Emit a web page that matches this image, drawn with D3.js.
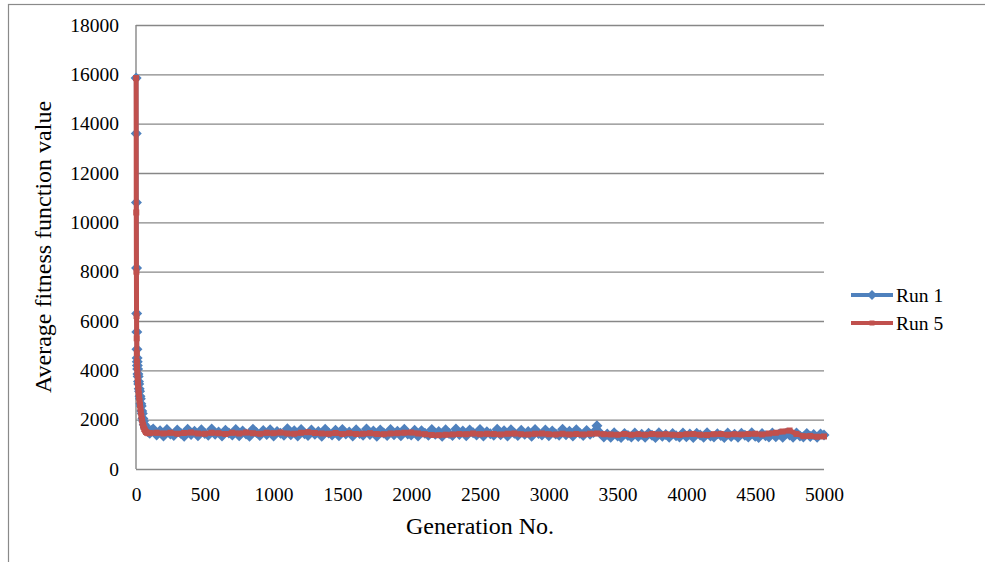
<!DOCTYPE html>
<html>
<head>
<meta charset="utf-8">
<script src="https://cdn.jsdelivr.net/npm/d3@7/dist/d3.min.js"></script>
<style>
  html, body { margin: 0; padding: 0; background: #fff; }
  svg { display: block; }
  text { font-family: "Liberation Serif", "Times New Roman", serif; fill: #000; }
</style>
</head>
<body>
<svg id="chart" width="985" height="562"></svg>
<script>
// Run 1: early generations (steep descent)
const run1EarlyGen = [1,2,3,4,5,6,7,8,9,10,12,14,16,18,20,23,26,29,32,35,38,42,46,50,55,60,65,70,76,83,90,100,110];
const run1EarlyVal = [15850,13600,10800,8150,6300,5550,4850,4500,4350,4200,4050,3850,3750,3550,3450,3250,3150,2950,2850,2650,2550,2350,2250,2050,1950,1800,1750,1640,1620,1540,1500,1450,1560];
// Run 1: generations 125..5000, sampled every 25 generations
const run1PlateauGen = d3.range(125, 5001, 25);
const run1PlateauVal = [
  1620,1380,1550,1340,1600,1420,1360,1580,1450,1330,1610,1400,1530,1350,1590,1440,1370,1620,1410,1500,
  1340,1570,1460,1380,1600,1350,1540,1420,1330,1610,1480,1360,1560,1400,1590,1340,1520,1450,1370,1630,
  1390,1550,1340,1600,1430,1360,1580,1410,1520,1330,1610,1460,1380,1570,1350,1600,1420,1500,1340,1590,
  1440,1370,1620,1400,1540,1330,1580,1460,1360,1600,1390,1530,1350,1610,1420,1380,1570,1340,1550,1450,
  1370,1600,1410,1520,1330,1590,1440,1360,1620,1400,1540,1350,1580,1470,1380,1600,1340,1510,1430,1370,
  1610,1390,1550,1340,1590,1450,1360,1570,1410,1520,1330,1600,1440,1380,1580,1350,1540,1420,1370,1610,
  1390,1530,1340,1590,1450,1360,1560,1410,1480,1750,
  1450,1300,1420,1290,1470,1340,1280,1440,1360,1300,1460,1320,1410,1290,1450,1370,1280,1470,1330,1400,
  1290,1440,1350,1300,1460,1310,1420,1280,1450,1380,1290,1470,1340,1300,1430,1360,1280,1460,1320,1410,
  1290,1450,1370,1300,1470,1330,1280,1440,1350,1300,1460,1310,1420,1290,1450,1380,1290,1460,1340,1300,
  1440,1320,1400,1290,1420,1380];

// Run 5: generation numbers and average fitness values
const run5Gen = [1,2,3,4,5,6,7,8,10,12,14,16,18,20,23,26,29,32,35,39,43,47,51,55,60,66,73,80,90,100,
  150,200,250,300,350,400,450,500,550,600,650,700,750,800,850,900,950,1000,1050,1100,1150,1200,1250,1300,1350,1400,1450,1500,
  1550,1600,1650,1700,1750,1800,1850,1900,1950,2000,2050,2100,2150,2200,2250,2300,2350,2400,2450,2500,2550,2600,2650,2700,
  2750,2800,2850,2900,2950,3000,3050,3100,3150,3200,3250,3300,3350,3400,3450,3500,3550,3600,3650,3700,3750,3800,3850,3900,
  3950,4000,4050,4100,4150,4200,4250,4300,4350,4400,4450,4500,4550,4600,4650,4700,4750,4800,4850,4900,4950,5000];
const run5Val = [15850,10400,8000,6200,5300,4700,4350,4100,3900,3700,3500,3350,3200,3050,2900,2750,2600,2450,2300,2150,2000,1880,1780,1700,1620,1560,1500,1470,1450,1460,
  1470,1440,1470,1430,1460,1480,1440,1430,1470,1450,1420,1470,1440,1480,1450,1430,1470,1450,1480,1440,1430,1470,1490,1460,1440,1430,1460,1420,
  1450,1420,1430,1450,1420,1410,1440,1450,1470,1480,1440,1410,1380,1370,1390,1400,1420,1410,1440,1410,1430,1420,1400,1430,
  1440,1410,1400,1430,1440,1410,1400,1430,1400,1420,1400,1430,1440,1410,1400,1390,1420,1390,1410,1390,1420,1400,1410,1390,
  1380,1410,1420,1390,1380,1410,1420,1390,1410,1400,1420,1430,1400,1440,1470,1520,1560,1420,1330,1340,1310,1320];

const yTicks = [0,2000,4000,6000,8000,10000,12000,14000,16000,18000];
const xTicks = [0,500,1000,1500,2000,2500,3000,3500,4000,4500,5000];
const seriesNames = ["Run 1", "Run 5"];
const seriesColors = ["#4F81BD", "#C0504D"];

const svg = d3.select("#chart");
const plot = { left: 136, right: 824, top: 25, bottom: 469 };

const x = d3.scaleLinear().domain([0, 5000]).range([plot.left, plot.right]);
const y = d3.scaleLinear().domain([0, 18000]).range([plot.bottom, plot.top]);

// Outer chart frame
svg.append("rect")
  .attr("x", 8.5).attr("y", 4.5)
  .attr("width", 1000).attr("height", 600)
  .attr("fill", "none").attr("stroke", "#8a8a8a").attr("stroke-width", 1.2);

// Horizontal gridlines
svg.append("g")
  .attr("transform", `translate(${plot.left},0)`)
  .call(d3.axisLeft(y).tickValues(yTicks).tickSize(-(plot.right - plot.left)).tickFormat(""))
  .call(g => g.select(".domain").remove())
  .call(g => g.selectAll("line").attr("stroke", "#878787").attr("stroke-width", 1.4));

// Left axis line
svg.append("line")
  .attr("x1", plot.left).attr("x2", plot.left)
  .attr("y1", plot.top).attr("y2", plot.bottom)
  .attr("stroke", "#878787").attr("stroke-width", 1.4);

// Y tick labels
svg.append("g")
  .attr("transform", `translate(${plot.left},0)`)
  .call(d3.axisLeft(y).tickValues(yTicks).tickSize(0).tickPadding(17).tickFormat(d3.format("d")))
  .call(g => g.select(".domain").remove())
  .call(g => g.selectAll("text").attr("font-size", 19.5).attr("font-family", "Liberation Serif"));

// X tick labels
svg.append("g")
  .attr("transform", `translate(0,${plot.bottom})`)
  .call(d3.axisBottom(x).tickValues(xTicks).tickSize(0).tickPadding(18).tickFormat(d3.format("d")))
  .call(g => g.select(".domain").remove())
  .call(g => g.selectAll("text").attr("font-size", 19.5).attr("font-family", "Liberation Serif"));

// Axis titles
svg.append("text")
  .attr("x", (plot.left + plot.right) / 2).attr("y", 534)
  .attr("text-anchor", "middle").attr("font-size", 24)
  .text("Generation No.");

svg.append("text")
  .attr("transform", `translate(51,${(plot.top + plot.bottom) / 2}) rotate(-90)`)
  .attr("text-anchor", "middle").attr("font-size", 24)
  .text("Average fitness function value");

const line = d3.line().x(d => x(d[0])).y(d => y(d[1]));
const run1 = run1EarlyGen.map((g, i) => [g, run1EarlyVal[i]])
  .concat(run1PlateauGen.map((g, i) => [g, run1PlateauVal[i]]));
const run5 = run5Gen.map((g, i) => [g, run5Val[i]]);

const diamond = "M0,-5.5L5.5,0L0,5.5L-5.5,0Z";
const legendDiamond = "M0,-5L5,0L0,5L-5,0Z";

// Run 1: line with diamond markers
svg.append("path").datum(run1)
  .attr("d", line).attr("fill", "none")
  .attr("stroke", seriesColors[0]).attr("stroke-width", 4.5).attr("stroke-linejoin", "round");
svg.append("g").selectAll("path").data(run1).join("path")
  .attr("d", diamond)
  .attr("transform", d => `translate(${x(d[0])},${y(d[1])})`)
  .attr("fill", seriesColors[0]);

// Run 5: line with small square markers
svg.append("path").datum(run5)
  .attr("d", line).attr("fill", "none")
  .attr("stroke", seriesColors[1]).attr("stroke-width", 5).attr("stroke-linejoin", "round");
svg.append("g").selectAll("rect").data(run5).join("rect")
  .attr("x", d => x(d[0]) - 3).attr("y", d => y(d[1]) - 3)
  .attr("width", 6).attr("height", 6)
  .attr("fill", seriesColors[1]);

// Legend
const legendY = d3.scalePoint().domain(seriesNames).range([295, 323]);
const legend = svg.append("g").selectAll("g").data(seriesNames).join("g")
  .attr("transform", d => `translate(0,${legendY(d)})`);
legend.append("line")
  .attr("x1", 851).attr("x2", 893).attr("y1", 0).attr("y2", 0)
  .attr("stroke", (d, i) => seriesColors[i]).attr("stroke-width", 4);
legend.append("path")
  .attr("d", (d, i) => i === 0 ? legendDiamond : "M-2.5,-2.5H2.5V2.5H-2.5Z")
  .attr("transform", "translate(872,0)")
  .attr("fill", (d, i) => seriesColors[i]);
legend.append("text")
  .attr("x", 896).attr("y", 0).attr("dy", "0.35em")
  .attr("font-size", 19.5)
  .text(d => d);
</script>
</body>
</html>
